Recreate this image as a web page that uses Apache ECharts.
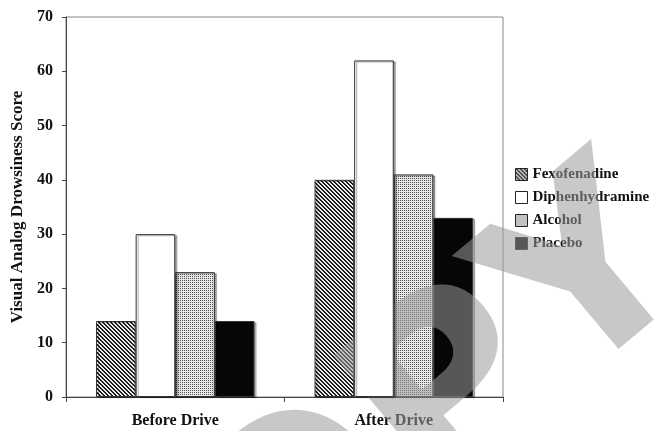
<!DOCTYPE html>
<html>
<head>
<meta charset="utf-8">
<script src="https://cdn.jsdelivr.net/npm/echarts@6/dist/echarts.min.js"></script>
<style>
  html, body { margin: 0; padding: 0; background: #fff; }
  #chart { width: 665px; height: 431px; }
</style>
</head>
<body>
<div id="chart"></div>
<script>
const categories = ["Before Drive", "After Drive"];
const fexofenadine = [14, 40];
const diphenhydramine = [30, 62];
const alcohol = [23, 41];
const placebo = [14, 33];
const yTicks = [0, 10, 20, 30, 40, 50, 60, 70];

const SERIF = "'Liberation Serif', 'Times New Roman', serif";

// small bitmap tiles for the hatch fills
function makeTile(size, painter) {
    const c = document.createElement("canvas");
    c.width = size;
    c.height = size;
    const ctx = c.getContext("2d");
    const img = ctx.createImageData(size, size);
    for (let y = 0; y < size; y++) {
        for (let x = 0; x < size; x++) {
            const v = painter(x, y);
            const i = (y * size + x) * 4;
            img.data[i] = img.data[i + 1] = img.data[i + 2] = v;
            img.data[i + 3] = 255;
        }
    }
    ctx.putImageData(img, 0, 0);
    return c;
}

const hatchTile = makeTile(4, (x, y) => ((x - y + 8) % 4 < 2 ? 30 : 235));
const dotTile = makeTile(4, (x, y) => {
    if ((x === 0 && y === 0) || (x === 2 && y === 2) || (x === 2 && y === 0) || (x === 0 && y === 2)) return 80;
    return 232;
});

const barStyle = {
    borderColor: "#333",
    borderWidth: 1,
    shadowColor: "rgba(0,0,0,0.35)",
    shadowOffsetX: 2,
    shadowOffsetY: 1,
    shadowBlur: 1
};

function barSeries(name, data, color, z) {
    return {
        name,
        type: "bar",
        data,
        barGap: "0%",
        barCategoryGap: "27.5%",
        z: z || 2,
        itemStyle: Object.assign({color}, barStyle)
    };
}

const chart = echarts.init(document.getElementById("chart"), null, {renderer: "canvas"});

chart.setOption({
    animation: false,
    backgroundColor: "#fff",
    grid: {
        left: 66,
        right: 162,
        top: 17,
        bottom: 34,
        show: true,
        borderColor: "#888",
        borderWidth: 1
    },
    legend: {
        orient: "vertical",
        left: 515,
        top: 167,
        padding: 0,
        itemWidth: 12,
        itemHeight: 12,
        itemGap: 8,
        icon: "rect",
        selectedMode: false,
        textStyle: {fontFamily: SERIF, fontWeight: "bold", fontSize: 15, color: "#111"},
        itemStyle: {borderColor: "#222", borderWidth: 1, shadowBlur: 0, shadowOffsetX: 0, shadowOffsetY: 0}
    },
    xAxis: {
        type: "category",
        data: categories,
        axisLine: {lineStyle: {color: "#444", width: 1}},
        axisTick: {show: true, length: 5, lineStyle: {color: "#444"}},
        axisLabel: {fontFamily: SERIF, fontWeight: "bold", fontSize: 16, color: "#111", margin: 16}
    },
    yAxis: {
        type: "value",
        min: yTicks[0],
        max: yTicks[yTicks.length - 1],
        interval: 10,
        name: "Visual Analog Drowsiness Score",
        nameLocation: "middle",
        nameGap: 40,
        nameTextStyle: {fontFamily: SERIF, fontWeight: "bold", fontSize: 17, color: "#111"},
        axisLine: {show: true, lineStyle: {color: "#444", width: 1}},
        axisTick: {show: true, length: 4, lineStyle: {color: "#444"}},
        splitLine: {show: false},
        axisLabel: {fontFamily: SERIF, fontWeight: "bold", fontSize: 16, color: "#111", margin: 13}
    },
    // grey "COPY" watermark laid over the figure
    graphic: [{
        type: "text",
        z: 5,
        x: 378,
        y: 468,
        rotation: 40 * Math.PI / 180,
        silent: true,
        style: {
            text: "COPY",
            fontFamily: "'DejaVu Sans', sans-serif",
            fontWeight: "bold",
            fontSize: 245,
            fill: "rgba(155,155,155,0.55)",
            textAlign: "center",
            textVerticalAlign: "middle"
        }
    }],
    series: [
        barSeries("Fexofenadine", fexofenadine, {image: hatchTile, repeat: "repeat"}),
        barSeries("Diphenhydramine", diphenhydramine, "#fff", 6),
        barSeries("Alcohol", alcohol, {image: dotTile, repeat: "repeat"}),
        barSeries("Placebo", placebo, "#060606")
    ]
});
</script>
</body>
</html>
